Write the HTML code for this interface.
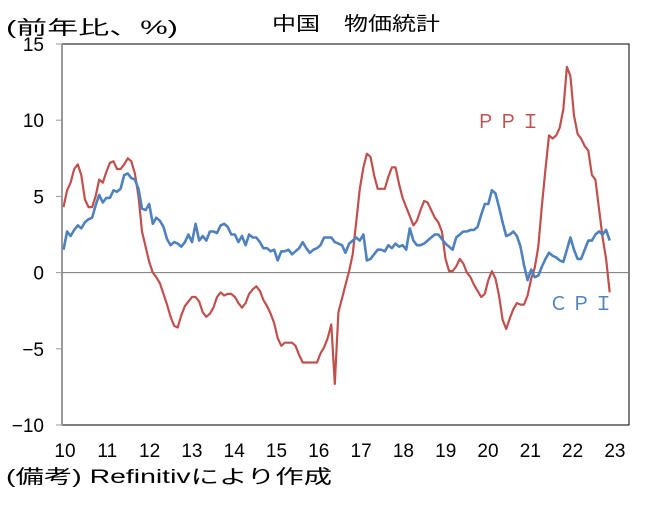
<!DOCTYPE html>
<html><head><meta charset="utf-8"><style>
html,body{margin:0;padding:0;background:#fff}
svg text{font-family:"Liberation Sans","Noto Sans CJK JP",sans-serif;fill:#000}
</style></head><body>
<svg id="s" width="663" height="501" xmlns="http://www.w3.org/2000/svg">
<rect x="0" y="0" width="663" height="501" fill="#fff"/>
<text x="6" y="34" font-size="19" textLength="172" lengthAdjust="spacingAndGlyphs">(前年比、%)</text>
<text x="272" y="30" font-size="19" textLength="168" lengthAdjust="spacingAndGlyphs">中国　物価統計</text>
<rect x="62" y="44" width="567" height="381" fill="none" stroke="#000" stroke-width="1"/>
<line x1="62" y1="44" x2="62" y2="425" stroke="#999" stroke-width="2"/>
<line x1="62" y1="272.6" x2="629" y2="272.6" stroke="#777" stroke-width="1"/>
<g id="yt" font-size="19" text-anchor="end"></g>
<g id="xt" font-size="19" text-anchor="middle"></g>
<polyline id="ppi" fill="none" stroke="#c0504d" stroke-width="2.2" stroke-linejoin="round"/>
<polyline id="cpi" fill="none" stroke="#4f81bd" stroke-width="2.6" stroke-linejoin="round"/>
<text x="476" y="128" font-size="19" fill="#c0504d" style="fill:#c0504d" textLength="64" lengthAdjust="spacing">ＰＰＩ</text>
<text x="549" y="310" font-size="19" style="fill:#4f81bd" textLength="64" lengthAdjust="spacing">ＣＰＩ</text>
<text x="6" y="483" font-size="19" textLength="326" lengthAdjust="spacingAndGlyphs">(備考) Refinitivにより作成</text>
</svg>
<script>
var cpi=[1.5,2.7,2.4,2.8,3.1,2.9,3.3,3.5,3.6,4.4,5.1,4.6,
4.9,4.9,5.4,5.3,5.5,6.4,6.5,6.2,6.1,5.5,4.2,4.1,
4.5,3.2,3.6,3.4,3.0,2.2,1.8,2.0,1.9,1.7,2.0,2.5,
2.0,3.2,2.1,2.4,2.1,2.7,2.7,2.6,3.1,3.2,3.0,2.5,
2.5,2.0,2.4,1.8,2.5,2.3,2.3,2.0,1.6,1.6,1.4,1.5,
0.8,1.4,1.4,1.5,1.2,1.4,1.6,2.0,1.6,1.3,1.5,1.6,
1.8,2.3,2.3,2.3,2.0,1.9,1.8,1.3,1.9,2.1,2.3,2.1,
2.5,0.8,0.9,1.2,1.5,1.5,1.4,1.8,1.6,1.9,1.7,1.8,
1.5,2.9,2.1,1.8,1.8,1.9,2.1,2.3,2.5,2.5,2.2,1.9,
1.7,1.5,2.3,2.5,2.7,2.7,2.8,2.8,3.0,3.8,4.5,4.5,
5.4,5.2,4.3,3.3,2.4,2.5,2.7,2.4,1.7,0.5,-0.5,0.2,
-0.3,-0.2,0.4,0.9,1.3,1.1,1.0,0.8,0.7,1.5,2.3,1.5,
0.9,0.9,1.5,2.1,2.1,2.5,2.7,2.5,2.8,2.1];
var ppi=[4.3,5.4,5.9,6.8,7.1,6.4,4.8,4.3,4.3,5.0,6.1,5.9,
6.6,7.2,7.3,6.8,6.8,7.1,7.5,7.3,6.5,5.0,2.7,1.7,
0.7,0.0,-0.3,-0.7,-1.4,-2.1,-2.9,-3.5,-3.6,-2.8,-2.2,-1.9,
-1.6,-1.6,-1.9,-2.6,-2.9,-2.7,-2.3,-1.6,-1.3,-1.5,-1.4,-1.4,
-1.6,-2.0,-2.3,-2.0,-1.4,-1.1,-0.9,-1.2,-1.8,-2.2,-2.7,-3.3,
-4.3,-4.8,-4.6,-4.6,-4.6,-4.8,-5.4,-5.9,-5.9,-5.9,-5.9,-5.9,
-5.3,-4.9,-4.3,-3.4,-7.3,-2.6,-1.7,-0.8,0.1,1.2,3.3,5.5,
6.9,7.8,7.6,6.4,5.5,5.5,5.5,6.3,6.9,6.9,5.8,4.9,
4.3,3.7,3.1,3.4,4.1,4.7,4.6,4.1,3.6,3.3,2.7,0.9,
0.1,0.1,0.4,0.9,0.6,0.0,-0.3,-0.8,-1.2,-1.6,-1.4,-0.5,
0.1,-0.4,-1.5,-3.1,-3.7,-3.0,-2.4,-2.0,-2.1,-2.1,-1.5,-0.4,
0.3,1.7,4.4,6.8,9.0,8.8,9.0,9.5,10.7,13.5,12.9,10.3,
9.1,8.8,8.3,8.0,6.4,6.1,4.2,2.3,0.9,-1.3];
function X(i){return 63.5+i*3.57}
function Y(v){return 272.6-v*15.24}
function pts(a){return a.map(function(v,i){return X(i).toFixed(1)+","+Y(v).toFixed(1)}).join(" ")}
document.getElementById("ppi").setAttribute("points",pts(ppi));
document.getElementById("cpi").setAttribute("points",pts(cpi));
var ns="http://www.w3.org/2000/svg",yt=document.getElementById("yt"),xt=document.getElementById("xt");
[15,10,5,0,-5,-10].forEach(function(v){
 var t=document.createElementNS(ns,"text");t.setAttribute("x",44);t.setAttribute("y",Y(v)+7);
 t.textContent=(v<0?"−":"")+Math.abs(v);yt.appendChild(t);
 var l=document.createElementNS(ns,"line");l.setAttribute("x1",56);l.setAttribute("x2",62);
 l.setAttribute("y1",Y(v));l.setAttribute("y2",Y(v));l.setAttribute("stroke","#999");yt.appendChild(l);
});
for(var k=0;k<14;k++){var t=document.createElementNS(ns,"text");t.setAttribute("x",65+k*42.3);
 t.setAttribute("y",457);t.textContent=10+k;xt.appendChild(t);}
</script>
</body></html>
